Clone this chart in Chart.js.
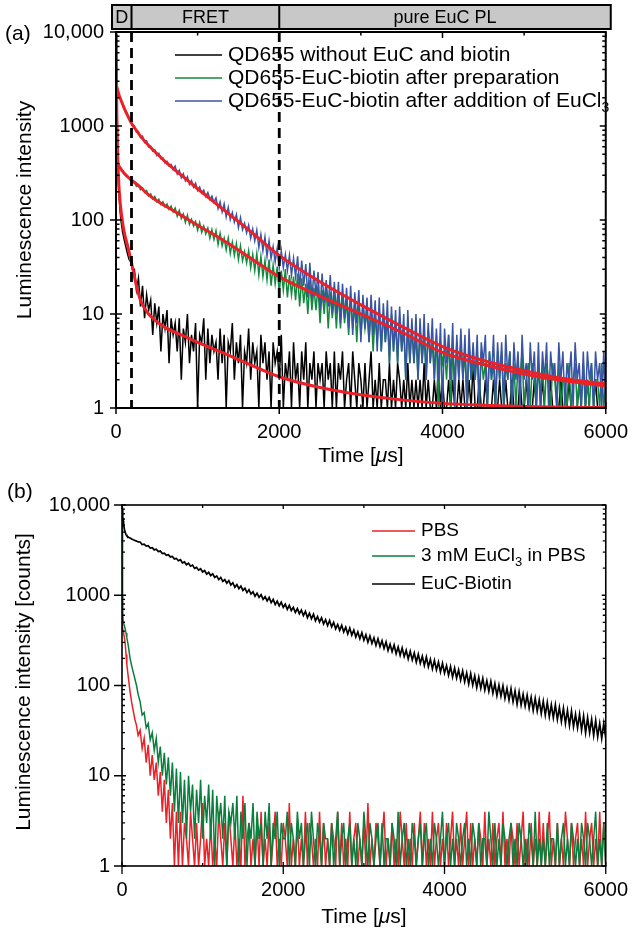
<!DOCTYPE html>
<html>
<head>
<meta charset="utf-8">
<script src="https://cdn.jsdelivr.net/npm/chart.js@4.4.1/dist/chart.umd.min.js"></script>
<style>
  body { margin: 0; background: #fff; }
  #wrap { position: relative; width: 640px; height: 928px; }
  canvas { position: absolute; left: 0; }
</style>
</head>
<body>
<div id="wrap">
  <canvas id="chartA" width="640" height="472" style="top:0"></canvas>
  <canvas id="chartB" width="640" height="468" style="top:460px"></canvas>
</div>
<script>
// time axis shared by all measured decays (µs)
const timeUs = [0,5,10,15,20,30,40,50,60,80,100,120,140,160,180,200,
  225,250,275,300,325,350,375,400,425,450,475,500,525,550,575,600,625,650,675,700,
  725,750,775,800,825,850,875,900,925,950,975,1000,1025,1050,1075,1100,1125,1150,1175,1200,
  1225,1250,1275,1300,1325,1350,1375,1400,1425,1450,1475,1500,1525,1550,1575,1600,1625,1650,1675,1700,
  1725,1750,1775,1800,1825,1850,1875,1900,1925,1950,1975,2000,2025,2050,2075,2100,2125,2150,2175,2200,
  2225,2250,2275,2300,2325,2350,2375,2400,2425,2450,2475,2500,2525,2550,2575,2600,2625,2650,2675,2700,
  2725,2750,2775,2800,2825,2850,2875,2900,2925,2950,2975,3000,3025,3050,3075,3100,3125,3150,3175,3200,
  3225,3250,3275,3300,3325,3350,3375,3400,3425,3450,3475,3500,3525,3550,3575,3600,3625,3650,3675,3700,
  3725,3750,3775,3800,3825,3850,3875,3900,3925,3950,3975,4000,4025,4050,4075,4100,4125,4150,4175,4200,
  4225,4250,4275,4300,4325,4350,4375,4400,4425,4450,4475,4500,4525,4550,4575,4600,4625,4650,4675,4700,
  4725,4750,4775,4800,4825,4850,4875,4900,4925,4950,4975,5000,5025,5050,5075,5100,5125,5150,5175,5200,
  5225,5250,5275,5300,5325,5350,5375,5400,5425,5450,5475,5500,5525,5550,5575,5600,5625,5650,5675,5700,
  5725,5750,5775,5800,5825,5850,5875,5900,5925,5950,5975,6000];

// panel (a) measured
const qdOnly = [9500,2800,1100,600,400,230,170,125,100,75,62,52,44,38,36,30,
  30,18,24,12,20,9,16,11,14,6,13,8,12,4,10,7,11,3,9,6,
  8,4,9,2,7,5,10,3,6,4,8,1,6,5,9,2,7,3,6,4,
  5,2,7,3,6,1,5,4,8,2,5,3,6,1,4,3,7,2,5,3,
  4,1,6,3,5,2,4,1,5,3,4,2,6,1,3,2,4,1,5,2,
  3,1,4,2,5,1,3,2,4,1,3,2,3,1,4,2,3,1,4,1,
  3,2,4,1,2,3,1,4,2,1,3,2,1,3,1,2,4,1,2,1,
  3,1,2,2,1,3,1,2,1,3,2,1,2,1,3,1,2,1,2,1,
  2,1,3,1,2,1,1,2,1,3,1,2,1,1,2,1,2,1,1,2,
  1,2,1,1,2,1,3,1,1,2,1,1,2,1,1,1,2,1,1,2,
  1,1,2,1,1,2,1,1,1,2,1,1,2,1,1,1,2,1,1,1,
  2,1,1,1,2,1,1,1,1,2,1,1,1,2,1,1,1,1,2,1,
  1,1,2,1,1,1,2,1,1,1,1,1];
const qdPrep = [2000,520,450,430,415,395,375,360,350,330,310,300,285,275,262,255,
  255,228,236,210,220,196,206,180,190,168,178,156,166,146,156,138,148,130,140,122,
  134,110,126,104,116,94,112,90,102,86,96,78,94,74,86,71,82,64,79,62,
  77,55,72,53,64,48,64,44,58,42,56,38,53,37,46,35,47,31,43,29,
  44,26,41,25,37,23,38,20,33,21,32,17,29,18,30,15,26,16,25,14,
  27,12,24,13,21,10,23,11,19,11,20,8,18,10,19,7,17,9,16,7,
  17,7,16,8,14,6,15,7,13,5,14,6,12,7,11,5,12,4,10,5,
  11,4,10,5,9,3,10,4,8,3,9,4,7,2,8,3,7,3,6,2,
  7,3,6,2,7,3,5,2,6,1,5,3,4,2,6,1,4,2,5,2,
  5,2,4,1,5,2,3,2,4,1,4,2,3,1,4,2,3,1,4,2,
  4,1,3,2,4,1,3,1,3,2,4,1,2,3,1,3,2,1,3,1,
  3,1,3,2,1,3,2,1,3,1,2,2,1,3,1,2,3,1,2,1,
  3,1,2,1,3,1,2,2,1,3,1,2];
const qdEuCl = [10000,3100,2650,2500,2420,2250,2130,1980,1900,1720,1560,1440,1330,1230,1110,1040,
  1005,862,870,752,778,668,695,598,610,540,558,485,512,448,458,405,421,376,390,343,
  374,308,338,282,310,262,288,240,262,224,246,206,224,193,208,178,196,166,180,154,
  172,132,156,122,148,108,136,101,120,95,114,83,106,79,92,73,88,64,80,60,
  78,51,70,47,66,41,60,39,52,36,50,31,47,31,43,29,42,26,39,25,
  41,19,37,20,34,15,35,14,29,16,28,11,27,13,23,12,26,10,22,10,
  22,8,21,9,19,7,20,6,17,8,18,5,16,7,15,5,16,6,14,4,
  15,4,13,5,14,3,12,4,11,3,12,4,10,2,11,3,9,3,10,2,
  9,3,10,2,8,3,9,2,7,2,8,1,7,3,6,2,8,1,6,2,
  7,2,6,1,7,2,5,2,6,1,5,3,6,1,4,2,6,1,5,2,
  5,1,6,2,4,1,5,2,4,1,6,2,3,1,5,2,4,1,5,1,
  4,2,5,1,4,2,3,1,5,2,4,1,3,2,4,1,5,2,3,1,
  4,1,4,2,3,1,4,2,3,1,4,1];

// panel (a) fitted curves
const fitTime = [0,5,10,20,40,70,100,150,200,250,300,400,500,600,800,1000,1300,1600,2000,2500,3000,3500,4000,4500,5000,5500,6000];
const qdOnlyFit = [9500,3500,1400,500,200,110,75,50,32,20,14,10,8.3,7.2,6.0,5.0,3.9,3.0,2.15,1.65,1.38,1.22,1.12,1.07,1.04,1.02,1.01];
const qdPrepFit = [430,420,410,395,370,340,315,285,262,242,222,185,160,142,112,88,62,42,25,15.5,10,6.4,3.9,2.9,2.3,1.95,1.72];
const qdEuClFit = [2800,2700,2600,2400,2100,1800,1550,1250,1030,900,780,620,510,420,300,215,132,82,42,22,12.5,7.4,4.5,3.2,2.5,2.05,1.8];

// panel (b) measured
const pbs = [1000,600,430,400,380,340,290,220,170,120,85,65,52,42,36,28,
  32,20,26,14,22,10,17,9,14,6,11,4,9,3,7,2,5,1,4,1,
  4,1,3,2,1,4,2,1,3,1,2,5,1,2,1,3,1,2,1,4,
  2,1,3,1,4,2,1,3,1,2,1,6,1,2,3,1,2,1,3,1,
  4,1,2,1,3,1,2,4,1,2,1,3,2,1,5,1,2,1,3,1,
  2,1,4,1,3,2,1,2,1,4,1,3,1,2,1,3,2,1,4,1,
  3,1,2,1,4,1,2,3,1,2,1,3,1,5,1,2,1,3,2,1,
  2,4,1,2,1,3,1,2,1,4,2,1,3,1,2,1,3,1,2,4,
  1,3,1,2,1,4,1,2,3,1,2,1,3,1,2,4,1,2,1,3,
  1,2,4,1,3,1,2,1,3,2,1,4,1,2,1,3,1,2,3,1,
  4,1,2,1,3,2,1,3,1,2,4,1,2,1,3,1,2,1,4,1,
  3,1,2,4,1,2,1,3,1,2,1,4,2,1,3,1,2,3,1,2,
  1,4,1,2,3,1,2,1,4,1,3,1];
const euclPbs = [9500,2600,600,520,490,460,420,380,340,270,200,165,140,118,100,80,
  66,47,50,34,38,25,30,19,26,14,21,10,18,8,16,6,14,4,12,3,
  11,3,9,2,10,4,8,2,7,3,9,2,6,3,8,2,7,1,6,3,
  5,2,6,1,4,3,5,2,6,1,4,2,5,1,3,2,5,1,4,2,
  3,1,4,2,5,1,3,2,4,1,3,2,2,4,1,3,2,1,4,2,
  3,1,2,3,1,4,2,1,3,2,1,3,2,2,1,3,1,2,4,1,
  2,3,1,2,3,1,2,1,3,2,1,4,2,1,3,2,1,2,3,1,
  3,1,2,2,1,3,2,1,4,1,2,3,1,2,1,3,2,1,2,3,
  1,2,3,1,2,1,3,2,1,2,4,1,2,3,1,2,1,3,2,1,
  2,3,1,2,1,3,2,1,3,1,2,2,1,4,2,1,3,1,2,1,
  3,2,1,2,3,1,2,1,3,2,1,2,1,3,2,1,4,1,2,1,
  2,1,3,1,2,2,1,3,1,2,3,1,2,1,3,2,1,2,1,3,
  2,1,3,2,1,2,4,1,2,1,3,1];
const eucBiotin = [9000,8200,7400,6700,6100,5400,5000,4700,4550,4400,4300,4200,4120,4050,3980,3900,
  3890,3650,3680,3500,3545,3329,3369,3179,3233,3052,3088,2900,2920,2769,2816,2658,2690,2525,2556,2412,
  2477,2280,2342,2178,2259,2101,2158,1986,2040,1896,1967,1811,1879,1712,1794,1652,1731,1577,1637,1491,
  1578,1424,1492,1359,1453,1299,1375,1227,1312,1185,1265,1131,1197,1069,1154,1032,1092,975,1055,946,
  1013,899,964,864,944,829,898,788,862,765,836,734,796,697,772,677,734,644,711,625,
  684,594,662,565,631,548,617,521,582,506,564,480,536,461,525,447,500,425,475,408,
  464,392,442,373,433,362,411,344,392,330,384,317,365,301,353,293,337,278,329,270,
  313,257,304,244,286,237,281,225,267,216,261,209,246,197,239,192,229,182,222,176,
  211,167,207,161,195,153,190,149,182,141,176,137,166,130,162,124,156,121,149,115,
  145,110,138,104,135,101,128,95,123,93,120,89,113,86,111,82,105,77,101,76,
  99,72,93,69,92,66,87,62,85,61,80,59,78,56,74,53,72,52,69,49,
  67,47,65,45,61,44,61,42,57,40,56,38,53,36,52,35,48,34,48,32,
  46,30,44,30,42,28,41,27,38,26,38,26];

const yTickValues = [1, 10, 100, 1000, 10000];
const yTickLabels = ['1', '10', '100', '1000', '10,000'];
const regionBounds = [190, 2000];
const regionLabels = ['D', 'FRET', 'pure EuC PL'];

const FONT = "'Liberation Sans', Arial, Helvetica, sans-serif";
const RED = '#ec2027';
const GREEN_A = '#12893d', BLUE_A = '#3a54a5', GREEN_B = '#0a7f3d';

const pts = (xs, ys) => xs.map((t, i) => ({ x: t, y: ys[i] }));

function textRun(ctx, parts, x, y, align) {
  let w = 0;
  parts.forEach(p => { ctx.font = p.f; w += ctx.measureText(p.t).width; });
  let cx = align === 'center' ? x - w / 2 : x;
  ctx.textAlign = 'left';
  parts.forEach(p => {
    ctx.font = p.f;
    ctx.fillText(p.t, cx, y + (p.dy || 0));
    cx += ctx.measureText(p.t).width;
  });
}

function frameAndTicks(chart, s) {
  const { ctx, chartArea: a, scales: { x, y } } = chart;
  ctx.save();
  ctx.strokeStyle = '#000';
  ctx.lineWidth = s.frame;
  ctx.strokeRect(a.left, a.top, a.right - a.left, a.bottom - a.top);
  ctx.lineWidth = s.tick;
  ctx.beginPath();
  yTickValues.forEach(d => {
    for (let m = 1; m <= 9; m++) {
      const v = d * m;
      if (v > 10000) break;
      const py = y.getPixelForValue(v);
      const major = m === 1;
      const inn = major ? s.major : s.minor;
      ctx.moveTo(a.left - (major ? s.out : 0), py); ctx.lineTo(a.left + inn, py);
      ctx.moveTo(a.right, py); ctx.lineTo(a.right - inn, py);
    }
  });
  x.ticks.forEach(t => {
    const px = x.getPixelForValue(t.value);
    const major = t.value % 2000 === 0;
    const inn = major ? s.major : s.minor;
    ctx.moveTo(px, a.bottom + (major ? s.out : 0)); ctx.lineTo(px, a.bottom - inn);
    ctx.moveTo(px, a.top); ctx.lineTo(px, a.top + inn);
  });
  ctx.stroke();
  ctx.restore();
}

function drawLegend(ctx, items, x0, x1, tx, ys) {
  items.forEach((it, i) => {
    ctx.strokeStyle = it.color;
    ctx.lineWidth = 1.5;
    ctx.beginPath(); ctx.moveTo(x0, ys[i]); ctx.lineTo(x1, ys[i]); ctx.stroke();
    ctx.fillStyle = '#000';
    ctx.textBaseline = 'middle';
    textRun(ctx, it.parts, tx, ys[i], 'left');
  });
}

function axisTitles(ctx, chart, yTitle, yc, xBase, letter, letterPos) {
  const a = chart.chartArea;
  ctx.fillStyle = '#000';
  ctx.save();
  ctx.translate(yc[0], yc[1]);
  ctx.rotate(-Math.PI / 2);
  ctx.font = `21px ${FONT}`;
  ctx.textAlign = 'center';
  ctx.textBaseline = 'middle';
  ctx.fillText(yTitle, 0, 0);
  ctx.restore();
  ctx.textBaseline = 'alphabetic';
  textRun(ctx, [
    { t: 'Time [', f: `21px ${FONT}` },
    { t: 'μ', f: `italic 21px ${FONT}` },
    { t: 's]', f: `21px ${FONT}` }
  ], (a.left + a.right) / 2, xBase, 'center');
  ctx.font = `21px ${FONT}`;
  ctx.textAlign = 'left';
  ctx.textBaseline = 'middle';
  ctx.fillText(letter, letterPos[0], letterPos[1]);
}

function options(p) {
  return {
    responsive: false,
    animation: false,
    devicePixelRatio: 1,
    layout: { padding: { left: 0, right: p.right, top: p.top, bottom: 0 } },
    plugins: { legend: { display: false }, tooltip: { enabled: false } },
    elements: { point: { radius: 0 }, line: { tension: 0 } },
    scales: {
      x: {
        type: 'linear', min: 0, max: 6000,
        afterFit: s => { s.height = p.xh; },
        grid: { display: false, drawTicks: false },
        border: { display: false },
        ticks: {
          stepSize: 1000, autoSkip: false, maxRotation: 0, padding: p.xpad,
          color: '#000', font: { family: FONT, size: 20 },
          callback: v => (v % 2000 === 0 ? String(v) : '')
        }
      },
      y: {
        type: 'logarithmic', min: 1, max: 10000,
        afterFit: s => { s.width = p.yw; },
        grid: { display: false, drawTicks: false },
        border: { display: false },
        ticks: {
          autoSkip: false, padding: p.ypad,
          color: '#000', font: { family: FONT, size: 20 },
          callback: v => { const i = yTickValues.indexOf(v); return i >= 0 ? yTickLabels[i] : ''; }
        }
      }
    }
  };
}

const line = (data, color, width, order, smooth) => ({
  data, borderColor: color, borderWidth: width, pointRadius: 0, order,
  cubicInterpolationMode: smooth ? 'monotone' : 'default', fill: false
});

const panelA = {
  id: 'panelA',
  afterDraw(chart) {
    const { ctx, chartArea: a, scales: { x } } = chart;
    frameAndTicks(chart, { frame: 2, tick: 1.5, major: 6, minor: 3.5, out: 6 });
    ctx.save();
    // region bar above the plot
    const bl = a.left - 4, br = a.right + 5, bt = 5, bb = 29;
    ctx.fillStyle = '#c8c8c8';
    ctx.fillRect(bl, bt, br - bl, bb - bt);
    ctx.strokeStyle = '#000';
    ctx.lineWidth = 2;
    ctx.strokeRect(bl, bt, br - bl, bb - bt);
    const edges = [bl, ...regionBounds.map(v => x.getPixelForValue(v)), br];
    ctx.beginPath();
    edges.slice(1, -1).forEach(px => { ctx.moveTo(px, bt); ctx.lineTo(px, bb); });
    ctx.stroke();
    ctx.fillStyle = '#000';
    ctx.font = `18px ${FONT}`;
    ctx.textAlign = 'center';
    ctx.textBaseline = 'middle';
    regionLabels.forEach((lab, i) => ctx.fillText(lab, (edges[i] + edges[i + 1]) / 2, (bt + bb) / 2 + 1));

    const f = `21px ${FONT}`;
    drawLegend(ctx, [
      { color: '#000', parts: [{ t: 'QD655 without EuC and biotin', f }] },
      { color: GREEN_A, parts: [{ t: 'QD655-EuC-biotin after preparation', f }] },
      { color: BLUE_A, parts: [{ t: 'QD655-EuC-biotin after addition of EuCl', f }, { t: '3', f: `14px ${FONT}`, dy: 7 }] }
    ], 175, 222, 228, [55, 78, 101]);

    ctx.strokeStyle = '#000';
    ctx.lineWidth = 2.8;
    ctx.setLineDash([10, 6]);
    ctx.beginPath();
    regionBounds.forEach(v => { const px = x.getPixelForValue(v); ctx.moveTo(px, a.top); ctx.lineTo(px, a.bottom); });
    ctx.stroke();
    ctx.setLineDash([]);

    axisTitles(ctx, chart, 'Luminescence intensity', [25, 210], 462, '(a)', [5, 34]);
    ctx.restore();
  }
};

const panelB = {
  id: 'panelB',
  afterDraw(chart) {
    const { ctx } = chart;
    frameAndTicks(chart, { frame: 1.6, tick: 1.3, major: 4, minor: 3, out: 8 });
    ctx.save();
    const f = `19px ${FONT}`;
    drawLegend(ctx, [
      { color: RED, parts: [{ t: 'PBS', f }] },
      { color: GREEN_B, parts: [{ t: '3 mM EuCl', f }, { t: '3', f: `13px ${FONT}`, dy: 6 }, { t: ' in PBS', f }] },
      { color: '#000', parts: [{ t: 'EuC-Biotin', f }] }
    ], 372, 415, 421, [71, 96, 124]);
    axisTitles(ctx, chart, 'Luminescence intensity [counts]', [24, 222], 463, '(b)', [7, 32]);
    ctx.restore();
  }
};

new Chart(document.getElementById('chartA'), {
  type: 'line',
  data: {
    datasets: [
      line(pts(fitTime, qdOnlyFit), RED, 3, 0, true),
      line(pts(fitTime, qdPrepFit), RED, 3, 0, true),
      line(pts(fitTime, qdEuClFit), RED, 3, 0, true),
      line(pts(timeUs, qdEuCl), BLUE_A, 1.5, 1),
      line(pts(timeUs, qdPrep), GREEN_A, 1.5, 2),
      line(pts(timeUs, qdOnly), '#000', 1.5, 3)
    ]
  },
  options: options({ right: 23, top: 32, xh: 64, yw: 116, xpad: 12, ypad: 12 }),
  plugins: [panelA]
});

new Chart(document.getElementById('chartB'), {
  type: 'line',
  data: {
    datasets: [
      line(pts(timeUs, eucBiotin), '#000', 1.7, 0),
      line(pts(timeUs, euclPbs), GREEN_B, 1.5, 1),
      line(pts(timeUs, pbs), RED, 1.5, 2)
    ]
  },
  options: options({ right: 28, top: 45, xh: 62, yw: 122, xpad: 12, ypad: 12 }),
  plugins: [panelB]
});
</script>
</body>
</html>
